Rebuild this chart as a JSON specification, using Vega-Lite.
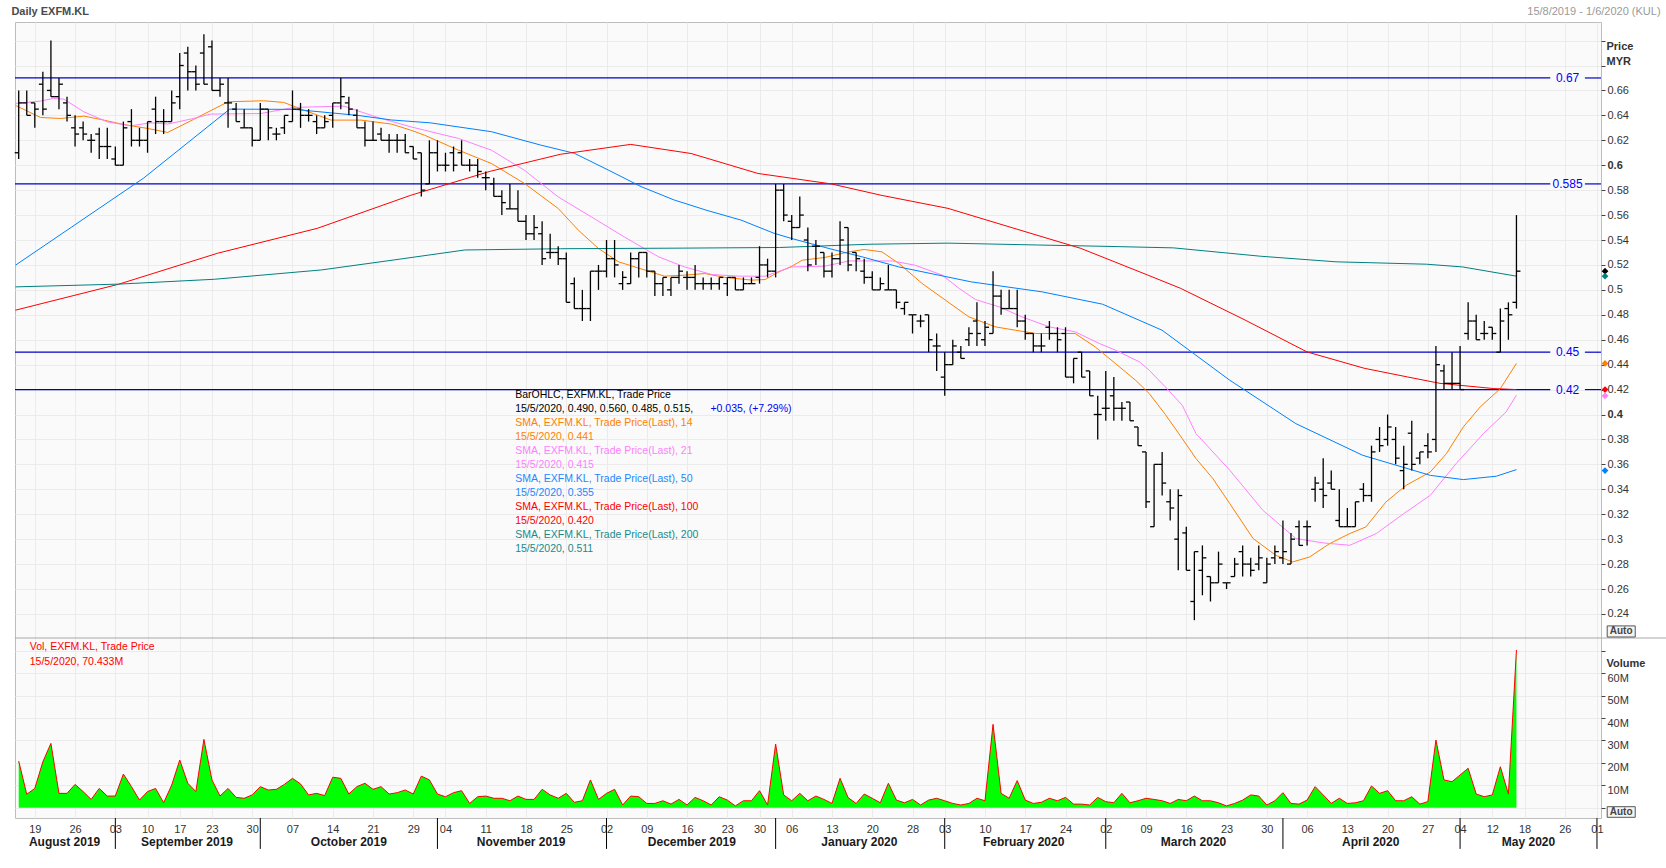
{
"$schema": "https://vega.github.io/schema/vega-lite/v6.json",
"width": 1586,
"height": 796,
"padding": {"left": 11, "top": 6, "right": 0, "bottom": 0},
"background": "#ffffff",
"config": {"font": "Liberation Sans", "view": {"stroke": "#bdbdbd", "fill": "#fafafa"}, "axis": {"labelOverlap": false, "labelFlush": false}},
"datasets": {
"ohlc": [
{"i":0,"o":0.61,"h":0.66,"l":0.605,"c":0.65,"v":20.8},
{"i":1,"o":0.65,"h":0.66,"l":0.64,"c":0.64,"v":6.0},
{"i":2,"o":0.65,"h":0.65,"l":0.63,"c":0.645,"v":8.6},
{"i":3,"o":0.665,"h":0.675,"l":0.64,"c":0.645,"v":20.5},
{"i":4,"o":0.66,"h":0.70,"l":0.655,"c":0.655,"v":28.7},
{"i":5,"o":0.655,"h":0.67,"l":0.645,"c":0.665,"v":6.4},
{"i":6,"o":0.65,"h":0.655,"l":0.635,"c":0.64,"v":6.4},
{"i":7,"o":0.63,"h":0.64,"l":0.615,"c":0.625,"v":10.4},
{"i":8,"o":0.63,"h":0.635,"l":0.62,"c":0.625,"v":7.2},
{"i":9,"o":0.62,"h":0.625,"l":0.61,"c":0.62,"v":3.7},
{"i":10,"o":0.625,"h":0.63,"l":0.605,"c":0.615,"v":8.6},
{"i":11,"o":0.615,"h":0.63,"l":0.605,"c":0.615,"v":5.2},
{"i":12,"o":0.605,"h":0.615,"l":0.60,"c":0.60,"v":5.2},
{"i":13,"o":0.60,"h":0.635,"l":0.60,"c":0.63,"v":15.0},
{"i":14,"o":0.635,"h":0.645,"l":0.615,"c":0.62,"v":9.4},
{"i":15,"o":0.62,"h":0.63,"l":0.615,"c":0.62,"v":3.4},
{"i":16,"o":0.62,"h":0.635,"l":0.61,"c":0.635,"v":7.2},
{"i":17,"o":0.645,"h":0.655,"l":0.625,"c":0.635,"v":8.6},
{"i":18,"o":0.635,"h":0.645,"l":0.625,"c":0.635,"v":2.2},
{"i":19,"o":0.635,"h":0.66,"l":0.635,"c":0.65,"v":10.1},
{"i":20,"o":0.655,"h":0.69,"l":0.645,"c":0.68,"v":21.3},
{"i":21,"o":0.69,"h":0.695,"l":0.66,"c":0.675,"v":10.9},
{"i":22,"o":0.675,"h":0.68,"l":0.66,"c":0.665,"v":7.2},
{"i":23,"o":0.69,"h":0.705,"l":0.665,"c":0.665,"v":30.5},
{"i":24,"o":0.695,"h":0.70,"l":0.66,"c":0.66,"v":12.4},
{"i":25,"o":0.66,"h":0.67,"l":0.655,"c":0.665,"v":5.2},
{"i":26,"o":0.65,"h":0.67,"l":0.63,"c":0.65,"v":8.6},
{"i":27,"o":0.645,"h":0.65,"l":0.635,"c":0.635,"v":4.6},
{"i":28,"o":0.63,"h":0.645,"l":0.63,"c":0.63,"v":4.2},
{"i":29,"o":0.63,"h":0.63,"l":0.615,"c":0.62,"v":5.7},
{"i":30,"o":0.62,"h":0.65,"l":0.62,"c":0.645,"v":9.4},
{"i":31,"o":0.645,"h":0.645,"l":0.62,"c":0.63,"v":7.9},
{"i":32,"o":0.625,"h":0.63,"l":0.62,"c":0.625,"v":8.2},
{"i":33,"o":0.63,"h":0.64,"l":0.625,"c":0.64,"v":10.4},
{"i":34,"o":0.635,"h":0.66,"l":0.635,"c":0.645,"v":13.1},
{"i":35,"o":0.645,"h":0.65,"l":0.63,"c":0.64,"v":10.6},
{"i":36,"o":0.64,"h":0.645,"l":0.635,"c":0.64,"v":5.7},
{"i":37,"o":0.635,"h":0.64,"l":0.625,"c":0.63,"v":6.4},
{"i":38,"o":0.63,"h":0.64,"l":0.63,"c":0.635,"v":5.4},
{"i":39,"o":0.64,"h":0.65,"l":0.63,"c":0.65,"v":13.6},
{"i":40,"o":0.65,"h":0.67,"l":0.645,"c":0.655,"v":13.1},
{"i":41,"o":0.65,"h":0.655,"l":0.64,"c":0.645,"v":6.1},
{"i":42,"o":0.64,"h":0.645,"l":0.63,"c":0.63,"v":9.4},
{"i":43,"o":0.63,"h":0.635,"l":0.615,"c":0.62,"v":10.9},
{"i":44,"o":0.62,"h":0.635,"l":0.62,"c":0.62,"v":8.2},
{"i":45,"o":0.625,"h":0.63,"l":0.62,"c":0.62,"v":9.4},
{"i":46,"o":0.62,"h":0.625,"l":0.61,"c":0.62,"v":6.1},
{"i":47,"o":0.62,"h":0.625,"l":0.61,"c":0.62,"v":6.7},
{"i":48,"o":0.62,"h":0.625,"l":0.61,"c":0.61,"v":7.9},
{"i":49,"o":0.615,"h":0.615,"l":0.605,"c":0.605,"v":6.1},
{"i":50,"o":0.61,"h":0.61,"l":0.575,"c":0.58,"v":14.1},
{"i":51,"o":0.585,"h":0.62,"l":0.585,"c":0.61,"v":12.4},
{"i":52,"o":0.61,"h":0.62,"l":0.595,"c":0.60,"v":6.1},
{"i":53,"o":0.60,"h":0.61,"l":0.595,"c":0.60,"v":4.9},
{"i":54,"o":0.61,"h":0.615,"l":0.595,"c":0.60,"v":6.7},
{"i":55,"o":0.61,"h":0.62,"l":0.60,"c":0.60,"v":7.6},
{"i":56,"o":0.60,"h":0.605,"l":0.595,"c":0.60,"v":1.9},
{"i":57,"o":0.60,"h":0.605,"l":0.59,"c":0.595,"v":4.9},
{"i":58,"o":0.59,"h":0.595,"l":0.58,"c":0.59,"v":5.2},
{"i":59,"o":0.585,"h":0.59,"l":0.575,"c":0.575,"v":4.2},
{"i":60,"o":0.575,"h":0.58,"l":0.56,"c":0.57,"v":4.2},
{"i":61,"o":0.565,"h":0.585,"l":0.565,"c":0.565,"v":3.1},
{"i":62,"o":0.565,"h":0.58,"l":0.555,"c":0.555,"v":5.2},
{"i":63,"o":0.555,"h":0.56,"l":0.54,"c":0.545,"v":3.7},
{"i":64,"o":0.545,"h":0.56,"l":0.54,"c":0.55,"v":3.7},
{"i":65,"o":0.545,"h":0.555,"l":0.52,"c":0.525,"v":8.2},
{"i":66,"o":0.53,"h":0.545,"l":0.525,"c":0.53,"v":5.7},
{"i":67,"o":0.53,"h":0.535,"l":0.52,"c":0.525,"v":4.2},
{"i":68,"o":0.525,"h":0.53,"l":0.49,"c":0.49,"v":6.4},
{"i":69,"o":0.505,"h":0.51,"l":0.485,"c":0.485,"v":2.4},
{"i":70,"o":0.485,"h":0.50,"l":0.475,"c":0.485,"v":3.1},
{"i":71,"o":0.485,"h":0.515,"l":0.475,"c":0.515,"v":12.4},
{"i":72,"o":0.515,"h":0.52,"l":0.50,"c":0.515,"v":3.7},
{"i":73,"o":0.515,"h":0.54,"l":0.51,"c":0.525,"v":6.4},
{"i":74,"o":0.525,"h":0.54,"l":0.51,"c":0.52,"v":8.2},
{"i":75,"o":0.505,"h":0.515,"l":0.50,"c":0.51,"v":1.2},
{"i":76,"o":0.505,"h":0.53,"l":0.505,"c":0.525,"v":5.2},
{"i":77,"o":0.525,"h":0.53,"l":0.51,"c":0.53,"v":4.9},
{"i":78,"o":0.53,"h":0.53,"l":0.51,"c":0.515,"v":1.9},
{"i":79,"o":0.515,"h":0.515,"l":0.495,"c":0.505,"v":1.9},
{"i":80,"o":0.505,"h":0.51,"l":0.495,"c":0.51,"v":3.1},
{"i":81,"o":0.50,"h":0.51,"l":0.495,"c":0.51,"v":1.6},
{"i":82,"o":0.51,"h":0.52,"l":0.505,"c":0.515,"v":3.7},
{"i":83,"o":0.51,"h":0.515,"l":0.50,"c":0.51,"v":1.2},
{"i":84,"o":0.51,"h":0.52,"l":0.50,"c":0.505,"v":4.6},
{"i":85,"o":0.505,"h":0.51,"l":0.50,"c":0.505,"v":3.1},
{"i":86,"o":0.505,"h":0.51,"l":0.50,"c":0.505,"v":1.2},
{"i":87,"o":0.505,"h":0.51,"l":0.50,"c":0.51,"v":4.9},
{"i":88,"o":0.505,"h":0.51,"l":0.495,"c":0.51,"v":3.4},
{"i":89,"o":0.51,"h":0.51,"l":0.50,"c":0.50,"v":0.8},
{"i":90,"o":0.50,"h":0.51,"l":0.50,"c":0.505,"v":3.1},
{"i":91,"o":0.505,"h":0.51,"l":0.505,"c":0.505,"v":3.1},
{"i":92,"o":0.51,"h":0.535,"l":0.505,"c":0.52,"v":7.6},
{"i":93,"o":0.52,"h":0.525,"l":0.51,"c":0.515,"v":1.2},
{"i":94,"o":0.515,"h":0.585,"l":0.51,"c":0.58,"v":28.4},
{"i":95,"o":0.58,"h":0.585,"l":0.555,"c":0.56,"v":5.7},
{"i":96,"o":0.555,"h":0.56,"l":0.54,"c":0.55,"v":3.1},
{"i":97,"o":0.55,"h":0.575,"l":0.55,"c":0.56,"v":6.4},
{"i":98,"o":0.54,"h":0.55,"l":0.515,"c":0.52,"v":3.1},
{"i":99,"o":0.535,"h":0.54,"l":0.52,"c":0.535,"v":5.2},
{"i":100,"o":0.53,"h":0.53,"l":0.51,"c":0.515,"v":3.7},
{"i":101,"o":0.515,"h":0.53,"l":0.51,"c":0.525,"v":1.9},
{"i":102,"o":0.525,"h":0.555,"l":0.52,"c":0.54,"v":13.1},
{"i":103,"o":0.55,"h":0.55,"l":0.515,"c":0.52,"v":4.5},
{"i":104,"o":0.53,"h":0.53,"l":0.515,"c":0.525,"v":1.9},
{"i":105,"o":0.515,"h":0.525,"l":0.505,"c":0.51,"v":6.1},
{"i":106,"o":0.51,"h":0.515,"l":0.50,"c":0.50,"v":4.2},
{"i":107,"o":0.50,"h":0.51,"l":0.50,"c":0.505,"v":2.2},
{"i":108,"o":0.50,"h":0.52,"l":0.50,"c":0.50,"v":10.9},
{"i":109,"o":0.50,"h":0.50,"l":0.485,"c":0.49,"v":3.4},
{"i":110,"o":0.485,"h":0.49,"l":0.48,"c":0.49,"v":2.2},
{"i":111,"o":0.48,"h":0.48,"l":0.465,"c":0.48,"v":3.7},
{"i":112,"o":0.475,"h":0.48,"l":0.47,"c":0.475,"v":1.2},
{"i":113,"o":0.48,"h":0.48,"l":0.45,"c":0.46,"v":3.4},
{"i":114,"o":0.455,"h":0.465,"l":0.435,"c":0.455,"v":4.2},
{"i":115,"o":0.43,"h":0.45,"l":0.415,"c":0.44,"v":3.1},
{"i":116,"o":0.44,"h":0.46,"l":0.44,"c":0.455,"v":1.9},
{"i":117,"o":0.45,"h":0.455,"l":0.445,"c":0.445,"v":1.2},
{"i":118,"o":0.46,"h":0.47,"l":0.455,"c":0.465,"v":1.9},
{"i":119,"o":0.475,"h":0.49,"l":0.455,"c":0.465,"v":4.2},
{"i":120,"o":0.46,"h":0.475,"l":0.455,"c":0.47,"v":3.1},
{"i":121,"o":0.465,"h":0.515,"l":0.465,"c":0.495,"v":37.2},
{"i":122,"o":0.495,"h":0.50,"l":0.48,"c":0.485,"v":6.4},
{"i":123,"o":0.485,"h":0.50,"l":0.485,"c":0.485,"v":4.2},
{"i":124,"o":0.485,"h":0.50,"l":0.47,"c":0.475,"v":12.1},
{"i":125,"o":0.475,"h":0.48,"l":0.46,"c":0.465,"v":3.4},
{"i":126,"o":0.465,"h":0.465,"l":0.45,"c":0.455,"v":1.9},
{"i":127,"o":0.455,"h":0.465,"l":0.45,"c":0.455,"v":2.4},
{"i":128,"o":0.47,"h":0.475,"l":0.46,"c":0.465,"v":4.2},
{"i":129,"o":0.465,"h":0.47,"l":0.45,"c":0.46,"v":3.1},
{"i":130,"o":0.465,"h":0.47,"l":0.43,"c":0.43,"v":4.6},
{"i":131,"o":0.43,"h":0.445,"l":0.425,"c":0.445,"v":1.6},
{"i":132,"o":0.45,"h":0.45,"l":0.43,"c":0.43,"v":1.6},
{"i":133,"o":0.435,"h":0.435,"l":0.415,"c":0.415,"v":1.2},
{"i":134,"o":0.40,"h":0.415,"l":0.38,"c":0.40,"v":4.6},
{"i":135,"o":0.405,"h":0.435,"l":0.395,"c":0.405,"v":2.7},
{"i":136,"o":0.415,"h":0.43,"l":0.395,"c":0.405,"v":2.2},
{"i":137,"o":0.405,"h":0.41,"l":0.395,"c":0.405,"v":6.4},
{"i":138,"o":0.41,"h":0.41,"l":0.395,"c":0.395,"v":2.2},
{"i":139,"o":0.39,"h":0.39,"l":0.375,"c":0.375,"v":3.1},
{"i":140,"o":0.37,"h":0.37,"l":0.325,"c":0.33,"v":4.2},
{"i":141,"o":0.31,"h":0.36,"l":0.31,"c":0.36,"v":3.7},
{"i":142,"o":0.36,"h":0.37,"l":0.335,"c":0.345,"v":3.1},
{"i":143,"o":0.33,"h":0.34,"l":0.315,"c":0.325,"v":1.9},
{"i":144,"o":0.30,"h":0.34,"l":0.275,"c":0.335,"v":3.7},
{"i":145,"o":0.305,"h":0.31,"l":0.275,"c":0.275,"v":3.1},
{"i":146,"o":0.25,"h":0.29,"l":0.235,"c":0.29,"v":5.2},
{"i":147,"o":0.275,"h":0.295,"l":0.255,"c":0.285,"v":3.1},
{"i":148,"o":0.27,"h":0.27,"l":0.25,"c":0.265,"v":3.1},
{"i":149,"o":0.265,"h":0.29,"l":0.265,"c":0.28,"v":2.2},
{"i":150,"o":0.265,"h":0.265,"l":0.26,"c":0.265,"v":0.8},
{"i":151,"o":0.27,"h":0.285,"l":0.27,"c":0.28,"v":1.9},
{"i":152,"o":0.29,"h":0.295,"l":0.27,"c":0.28,"v":3.4},
{"i":153,"o":0.28,"h":0.285,"l":0.27,"c":0.275,"v":5.7},
{"i":154,"o":0.28,"h":0.295,"l":0.275,"c":0.285,"v":5.2},
{"i":155,"o":0.265,"h":0.285,"l":0.265,"c":0.28,"v":1.2},
{"i":156,"o":0.285,"h":0.295,"l":0.28,"c":0.29,"v":3.1},
{"i":157,"o":0.285,"h":0.315,"l":0.28,"c":0.29,"v":6.7},
{"i":158,"o":0.28,"h":0.305,"l":0.28,"c":0.30,"v":1.9},
{"i":159,"o":0.31,"h":0.315,"l":0.295,"c":0.295,"v":1.6},
{"i":160,"o":0.31,"h":0.315,"l":0.295,"c":0.31,"v":3.4},
{"i":161,"o":0.34,"h":0.35,"l":0.33,"c":0.345,"v":9.4},
{"i":162,"o":0.34,"h":0.365,"l":0.325,"c":0.335,"v":5.7},
{"i":163,"o":0.345,"h":0.355,"l":0.34,"c":0.34,"v":1.9},
{"i":164,"o":0.315,"h":0.34,"l":0.31,"c":0.31,"v":4.2},
{"i":165,"o":0.31,"h":0.325,"l":0.31,"c":0.31,"v":1.9},
{"i":166,"o":0.31,"h":0.33,"l":0.31,"c":0.33,"v":2.2},
{"i":167,"o":0.34,"h":0.345,"l":0.33,"c":0.335,"v":3.1},
{"i":168,"o":0.335,"h":0.375,"l":0.33,"c":0.37,"v":9.7},
{"i":169,"o":0.38,"h":0.39,"l":0.37,"c":0.375,"v":6.4},
{"i":170,"o":0.38,"h":0.40,"l":0.375,"c":0.39,"v":7.6},
{"i":171,"o":0.38,"h":0.39,"l":0.36,"c":0.365,"v":3.1},
{"i":172,"o":0.355,"h":0.375,"l":0.34,"c":0.36,"v":3.1},
{"i":173,"o":0.385,"h":0.395,"l":0.355,"c":0.36,"v":4.9},
{"i":174,"o":0.365,"h":0.37,"l":0.36,"c":0.37,"v":1.6},
{"i":175,"o":0.375,"h":0.385,"l":0.365,"c":0.37,"v":2.7},
{"i":176,"o":0.38,"h":0.455,"l":0.37,"c":0.44,"v":30.2},
{"i":177,"o":0.435,"h":0.44,"l":0.42,"c":0.425,"v":12.4},
{"i":178,"o":0.425,"h":0.45,"l":0.42,"c":0.425,"v":11.6},
{"i":179,"o":0.425,"h":0.455,"l":0.42,"c":0.42,"v":14.6},
{"i":180,"o":0.465,"h":0.49,"l":0.46,"c":0.475,"v":17.6},
{"i":181,"o":0.475,"h":0.48,"l":0.46,"c":0.46,"v":6.1},
{"i":182,"o":0.465,"h":0.475,"l":0.46,"c":0.465,"v":4.9},
{"i":183,"o":0.47,"h":0.47,"l":0.46,"c":0.465,"v":5.7},
{"i":184,"o":0.45,"h":0.485,"l":0.45,"c":0.475,"v":18.3},
{"i":185,"o":0.485,"h":0.49,"l":0.46,"c":0.48,"v":6.1},
{"i":186,"o":0.49,"h":0.56,"l":0.485,"c":0.515,"v":70.433}
],
"sma": [
{"s":"14","i":-0.4,"v":0.648},{"s":"14","i":2.7,"v":0.6383},{"s":"14","i":5.2,"v":0.6375},{"s":"14","i":8.1,"v":0.6394},{"s":"14","i":10.2,"v":0.6367},{"s":"14","i":13,"v":0.6327},{"s":"14","i":16,"v":0.6295},{"s":"14","i":18.5,"v":0.6263},{"s":"14","i":21.7,"v":0.6367},{"s":"14","i":26,"v":0.6509},{"s":"14","i":30.4,"v":0.6517},{"s":"14","i":32.9,"v":0.6504},{"s":"14","i":35.4,"v":0.6442},{"s":"14","i":38.8,"v":0.6362},{"s":"14","i":42.5,"v":0.6362},{"s":"14","i":46.3,"v":0.633},{"s":"14","i":48.7,"v":0.6281},{"s":"14","i":50.4,"v":0.6241},{"s":"14","i":54.6,"v":0.6121},{"s":"14","i":58.7,"v":0.6014},{"s":"14","i":62.8,"v":0.5854},{"s":"14","i":67,"v":0.5653},{"s":"14","i":69.5,"v":0.5479},{"s":"14","i":72,"v":0.5332},{"s":"14","i":74.5,"v":0.5225},{"s":"14","i":77.4,"v":0.5166},{"s":"14","i":80.2,"v":0.511},{"s":"14","i":82.7,"v":0.5118},{"s":"14","i":85.2,"v":0.5131},{"s":"14","i":87.7,"v":0.51},{"s":"14","i":91.1,"v":0.5078},{"s":"14","i":92.7,"v":0.5083},{"s":"14","i":94.4,"v":0.5144},{"s":"14","i":96,"v":0.5189},{"s":"14","i":97.3,"v":0.5238},{"s":"14","i":100.1,"v":0.526},{"s":"14","i":103.1,"v":0.5305},{"s":"14","i":105,"v":0.5324},{"s":"14","i":107.2,"v":0.5305},{"s":"14","i":109.3,"v":0.5212},{"s":"14","i":112.2,"v":0.5051},{"s":"14","i":115.1,"v":0.4917},{"s":"14","i":118,"v":0.4783},{"s":"14","i":121.3,"v":0.4703},{"s":"14","i":123.8,"v":0.4676},{"s":"14","i":126.3,"v":0.465},{"s":"14","i":131.2,"v":0.465},{"s":"14","i":133.7,"v":0.4542},{"s":"14","i":136.2,"v":0.4409},{"s":"14","i":138.7,"v":0.4275},{"s":"14","i":140.4,"v":0.4168},{"s":"14","i":142.4,"v":0.40},{"s":"14","i":144.5,"v":0.3807},{"s":"14","i":146.2,"v":0.3647},{"s":"14","i":148.3,"v":0.3486},{"s":"14","i":150.4,"v":0.3285},{"s":"14","i":153.3,"v":0.3005},{"s":"14","i":156.1,"v":0.2871},{"s":"14","i":158.2,"v":0.2817},{"s":"14","i":160.3,"v":0.2857},{"s":"14","i":162.8,"v":0.2964},{"s":"14","i":165.3,"v":0.3045},{"s":"14","i":167.3,"v":0.3098},{"s":"14","i":169.8,"v":0.3299},{"s":"14","i":172.3,"v":0.3432},{"s":"14","i":175.3,"v":0.3539},{"s":"14","i":177.3,"v":0.3686},{"s":"14","i":179.4,"v":0.39},{"s":"14","i":181.5,"v":0.4061},{"s":"14","i":184,"v":0.4208},{"s":"14","i":186,"v":0.441},
{"s":"21","i":-0.4,"v":0.6496},{"s":"21","i":2.7,"v":0.6514},{"s":"21","i":4.3,"v":0.6536},{"s":"21","i":5.6,"v":0.653},{"s":"21","i":8.1,"v":0.6428},{"s":"21","i":11,"v":0.6348},{"s":"21","i":13.9,"v":0.6316},{"s":"21","i":16.4,"v":0.634},{"s":"21","i":18.5,"v":0.633},{"s":"21","i":21.7,"v":0.6375},{"s":"21","i":23.8,"v":0.641},{"s":"21","i":30.1,"v":0.6415},{"s":"21","i":34.2,"v":0.6464},{"s":"21","i":40.4,"v":0.6474},{"s":"21","i":42.5,"v":0.6428},{"s":"21","i":44.6,"v":0.6383},{"s":"21","i":48.7,"v":0.6308},{"s":"21","i":50.4,"v":0.6281},{"s":"21","i":54.6,"v":0.6215},{"s":"21","i":58.7,"v":0.6121},{"s":"21","i":62.8,"v":0.596},{"s":"21","i":67,"v":0.5746},{"s":"21","i":71.1,"v":0.5586},{"s":"21","i":75.2,"v":0.5425},{"s":"21","i":79.5,"v":0.5264},{"s":"21","i":82.7,"v":0.5184},{"s":"21","i":86.1,"v":0.5123},{"s":"21","i":89.4,"v":0.511},{"s":"21","i":92.7,"v":0.511},{"s":"21","i":96,"v":0.5184},{"s":"21","i":100.1,"v":0.519},{"s":"21","i":103.1,"v":0.5232},{"s":"21","i":108.5,"v":0.5232},{"s":"21","i":111.3,"v":0.5198},{"s":"21","i":114.7,"v":0.5118},{"s":"21","i":116.8,"v":0.5011},{"s":"21","i":118.8,"v":0.4923},{"s":"21","i":121.8,"v":0.4863},{"s":"21","i":124.6,"v":0.4783},{"s":"21","i":128,"v":0.4703},{"s":"21","i":131.2,"v":0.4663},{"s":"21","i":134.2,"v":0.457},{"s":"21","i":136.2,"v":0.4516},{"s":"21","i":139.2,"v":0.4422},{"s":"21","i":140.4,"v":0.4355},{"s":"21","i":142.4,"v":0.4221},{"s":"21","i":144.5,"v":0.4074},{"s":"21","i":146.2,"v":0.3847},{"s":"21","i":150.4,"v":0.3553},{"s":"21","i":154.5,"v":0.3232},{"s":"21","i":158.6,"v":0.3005},{"s":"21","i":162,"v":0.297},{"s":"21","i":165.3,"v":0.2951},{"s":"21","i":168.6,"v":0.3045},{"s":"21","i":172,"v":0.3205},{"s":"21","i":175.3,"v":0.3352},{"s":"21","i":178.5,"v":0.3606},{"s":"21","i":181.9,"v":0.3847},{"s":"21","i":184.7,"v":0.402},{"s":"21","i":186,"v":0.4155},
{"s":"50","i":-0.4,"v":0.5198},{"s":"50","i":6.6,"v":0.5505},{"s":"50","i":15.5,"v":0.5896},{"s":"50","i":26.2,"v":0.645},{"s":"50","i":34.2,"v":0.6448},{"s":"50","i":42.1,"v":0.64},{"s":"50","i":46.3,"v":0.6363},{"s":"50","i":51.1,"v":0.634},{"s":"50","i":58.7,"v":0.6269},{"s":"50","i":64.8,"v":0.6162},{"s":"50","i":69,"v":0.6096},{"s":"50","i":73.2,"v":0.5962},{"s":"50","i":77.3,"v":0.5828},{"s":"50","i":81.4,"v":0.5721},{"s":"50","i":85.6,"v":0.5635},{"s":"50","i":89.7,"v":0.556},{"s":"50","i":93.8,"v":0.5454},{"s":"50","i":96,"v":0.5412},{"s":"50","i":100.5,"v":0.5334},{"s":"50","i":104.8,"v":0.5264},{"s":"50","i":109.3,"v":0.5184},{"s":"50","i":118.3,"v":0.5064},{"s":"50","i":127.1,"v":0.4984},{"s":"50","i":134.6,"v":0.4885},{"s":"50","i":142,"v":0.4676},{"s":"50","i":150.4,"v":0.4275},{"s":"50","i":158.6,"v":0.3927},{"s":"50","i":166.9,"v":0.3673},{"s":"50","i":175.3,"v":0.3512},{"s":"50","i":179.4,"v":0.3478},{"s":"50","i":183.5,"v":0.3505},{"s":"50","i":186,"v":0.3558},
{"s":"100","i":-0.4,"v":0.4837},{"s":"100","i":12.4,"v":0.5045},{"s":"100","i":24.7,"v":0.5294},{"s":"100","i":37.1,"v":0.5494},{"s":"100","i":48.7,"v":0.5759},{"s":"100","i":58.6,"v":0.5952},{"s":"100","i":67.3,"v":0.6088},{"s":"100","i":76,"v":0.6167},{"s":"100","i":83.5,"v":0.6094},{"s":"100","i":91.8,"v":0.5934},{"s":"100","i":100.9,"v":0.585},{"s":"100","i":107.1,"v":0.5759},{"s":"100","i":115.4,"v":0.5654},{"s":"100","i":123.6,"v":0.5494},{"s":"100","i":131.9,"v":0.5333},{"s":"100","i":140.2,"v":0.5119},{"s":"100","i":144.3,"v":0.5012},{"s":"100","i":152.3,"v":0.4758},{"s":"100","i":160,"v":0.4502},{"s":"100","i":167.1,"v":0.4371},{"s":"100","i":172.5,"v":0.4301},{"s":"100","i":176.5,"v":0.425},{"s":"100","i":183.2,"v":0.4208},{"s":"100","i":186,"v":0.42},
{"s":"200","i":-0.4,"v":0.5024},{"s":"200","i":12.4,"v":0.5046},{"s":"200","i":24.3,"v":0.5085},{"s":"200","i":37.6,"v":0.516},{"s":"200","i":46.6,"v":0.524},{"s":"200","i":55.4,"v":0.532},{"s":"200","i":67.3,"v":0.533},{"s":"200","i":82.6,"v":0.5335},{"s":"200","i":94.5,"v":0.534},{"s":"200","i":105.6,"v":0.5366},{"s":"200","i":115.4,"v":0.5375},{"s":"200","i":126.5,"v":0.536},{"s":"200","i":134.4,"v":0.535},{"s":"200","i":143.4,"v":0.5337},{"s":"200","i":154.2,"v":0.527},{"s":"200","i":163.6,"v":0.5225},{"s":"200","i":174.8,"v":0.5206},{"s":"200","i":179.3,"v":0.5184},{"s":"200","i":186,"v":0.511}
],
"levels": [{"lvl":0.67,"lbl":"0.67"},{"lvl":0.585,"lbl":"0.585"},{"lvl":0.45,"lbl":"0.45"},{"lvl":0.42,"lbl":"0.42"}],
"last": [{"s":"price","v":0.515},{"s":"200","v":0.511},{"s":"14","v":0.441},{"s":"100","v":0.42},{"s":"21","v":0.415},{"s":"50","v":0.355}],
"months": [{"m":"August 2019","c":5.7},{"m":"September 2019","c":20.9,"s":12},{"m":"October 2019","c":41,"s":30},{"m":"November 2019","c":62.4,"s":52},{"m":"December 2019","c":83.6,"s":73},{"m":"January 2020","c":104.4,"s":94},{"m":"February 2020","c":124.8,"s":115},{"m":"March 2020","c":145.9,"s":135},{"m":"April 2020","c":167.9,"s":157},{"m":"May 2020","c":187.5,"s":179},{"m":"","s":196}]
},
"layer": [
{"layer": [
{"data": {"name": "levels"}, "mark": {"type": "rule", "color": "#0000cc", "strokeWidth": 1.2},
 "encoding": {"x": {"datum": -0.46, "type": "quantitative", "scale": {"domain": [-0.46, 196.5], "nice": false, "zero": false}}, "x2": {"datum": 190.2},
 "y": {"field": "lvl", "type": "quantitative", "scale": {"domain": [0.0763, 0.7149], "nice": false, "zero": false},
  "axis": {"orient": "right", "values": [0.24,0.26,0.28,0.3,0.32,0.34,0.36,0.38,0.4,0.42,0.44,0.46,0.48,0.5,0.52,0.54,0.56,0.58,0.6,0.62,0.64,0.66,0.68,0.7], "tickCount": 200,
   "labelExpr": "datum.value > 0.665 ? '' : format(datum.value, '.2~f')",
   "grid": true, "gridColor": "#ebebeb", "domain": false, "tickSize": 4, "tickColor": "#444444",
   "labelFontSize": 11, "labelColor": "#333333", "labelPadding": 2,
   "labelFontWeight": {"condition": {"test": "abs(datum.value - 0.4) < 0.001 || abs(datum.value - 0.6) < 0.001", "value": "bold"}, "value": "normal"},
   "labelOverlap": false, "labelBound": false,
   "title": ["Price", "MYR"], "titleAngle": 0, "titleAlign": "left", "titleBaseline": "top", "titleX": 5, "titleY": 18, "titleFontSize": 11, "titleFontWeight": "bold", "titleColor": "#333333", "titleLineHeight": 15}}}},
{"data": {"name": "levels"}, "mark": {"type": "rule", "color": "#0000cc", "strokeWidth": 1.2},
 "encoding": {"x": {"datum": 194.5, "type": "quantitative"}, "x2": {"datum": 196.5}, "y": {"field": "lvl", "type": "quantitative"}}},
{"data": {"name": "levels"}, "mark": {"type": "text", "color": "#0000ff", "fontSize": 12, "align": "center", "baseline": "middle"},
 "encoding": {"x": {"datum": 192.35, "type": "quantitative"}, "y": {"field": "lvl", "type": "quantitative"}, "text": {"field": "lbl"}}},
{"data": {"values": [{"k": 1}]}, "mark": {"type": "rule", "color": "#a8a8a8", "strokeWidth": 1},
 "encoding": {"x": {"datum": -0.46, "type": "quantitative"}, "x2": {"datum": 204.7}, "y": {"datum": 0.2207, "type": "quantitative"}}},
{"data": {"name": "sma"}, "mark": {"type": "line", "strokeWidth": 1, "interpolate": "linear"},
 "encoding": {"x": {"field": "i", "type": "quantitative", "scale": {"domain": [-0.46, 196.5], "nice": false, "zero": false},
  "axis": {"values": [2,7,12,16,20,24,29,34,39,44,49,53,58,63,68,73,78,83,88,92,96,101,106,111,115,120,125,130,135,140,145,150,155,160,165,170,175,179,183,187,192,196], "tickCount": 200,
  "labelExpr": "['19','26','03','10','17','23','30','07','14','21','29','04','11','18','25','02','09','16','23','30','06','13','20','28','03','10','17','24','02','09','16','23','30','06','13','20','27','04','12','18','26','01'][indexof([2,7,12,16,20,24,29,34,39,44,49,53,58,63,68,73,78,83,88,92,96,101,106,111,115,120,125,130,135,140,145,150,155,160,165,170,175,179,183,187,192,196], datum.value)]",
  "title": null, "grid": true, "gridColor": "#ebebeb", "ticks": false, "domain": false, "labelFontSize": 11, "labelColor": "#333333", "labelPadding": 5, "labelFlush": false, "labelOverlap": false, "labelBound": false}},
 "y": {"field": "v", "type": "quantitative"},
 "color": {"field": "s", "type": "nominal", "scale": {"domain": ["14","21","50","100","200","price"], "range": ["#ff8000","#ff80ff","#0080ff","#ff0000","#008080","#000000"]}, "legend": null}}},
{"data": {"name": "ohlc"}, "mark": {"type": "rule", "color": "#000000", "strokeWidth": 1.3},
 "encoding": {"x": {"field": "i", "type": "quantitative"}, "y": {"field": "h", "type": "quantitative"}, "y2": {"field": "l"}}},
{"data": {"name": "ohlc"}, "mark": {"type": "rule", "color": "#000000", "strokeWidth": 1.3, "xOffset": -4, "x2Offset": 0},
 "encoding": {"x": {"field": "i", "type": "quantitative"}, "x2": {"field": "i"}, "y": {"field": "o", "type": "quantitative"}}},
{"data": {"name": "ohlc"}, "mark": {"type": "rule", "color": "#000000", "strokeWidth": 1.3, "xOffset": 0, "x2Offset": 4},
 "encoding": {"x": {"field": "i", "type": "quantitative"}, "x2": {"field": "i"}, "y": {"field": "c", "type": "quantitative"}}},
{"data": {"name": "last"}, "mark": {"type": "point", "shape": "diamond", "filled": true, "size": 45, "opacity": 1},
 "encoding": {"x": {"datum": 197.0, "type": "quantitative"}, "y": {"field": "v", "type": "quantitative"},
 "color": {"field": "s", "type": "nominal", "legend": null}}},
{"data": {"values": [{"k": 1}]}, "mark": {"type": "text", "align": "left", "baseline": "top", "fontSize": 10.5, "lineHeight": 14, "lineBreak": "\n", "color": "#000000"},
 "encoding": {"x": {"datum": 61.65, "type": "quantitative"}, "y": {"datum": 0.42, "type": "quantitative"}, "text": {"value": "BarOHLC, EXFM.KL, Trade Price\n15/5/2020, 0.490, 0.560, 0.485, 0.515,"}}},
{"data": {"values": [{"k": 1}]}, "mark": {"type": "text", "align": "left", "baseline": "top", "fontSize": 10.5, "color": "#0000ff"},
 "encoding": {"x": {"datum": 85.9, "type": "quantitative"}, "y": {"datum": 0.40877, "type": "quantitative"}, "text": {"value": "+0.035, (+7.29%)"}}},
{"data": {"values": [{"k": 1}]}, "mark": {"type": "text", "align": "left", "baseline": "top", "fontSize": 10.5, "lineHeight": 14, "lineBreak": "\n", "color": "#ff8000"},
 "encoding": {"x": {"datum": 61.65, "type": "quantitative"}, "y": {"datum": 0.39754, "type": "quantitative"}, "text": {"value": "SMA, EXFM.KL, Trade Price(Last),  14\n15/5/2020, 0.441"}}},
{"data": {"values": [{"k": 1}]}, "mark": {"type": "text", "align": "left", "baseline": "top", "fontSize": 10.5, "lineHeight": 14, "lineBreak": "\n", "color": "#ff80ff"},
 "encoding": {"x": {"datum": 61.65, "type": "quantitative"}, "y": {"datum": 0.37508, "type": "quantitative"}, "text": {"value": "SMA, EXFM.KL, Trade Price(Last),  21\n15/5/2020, 0.415"}}},
{"data": {"values": [{"k": 1}]}, "mark": {"type": "text", "align": "left", "baseline": "top", "fontSize": 10.5, "lineHeight": 14, "lineBreak": "\n", "color": "#1e88ff"},
 "encoding": {"x": {"datum": 61.65, "type": "quantitative"}, "y": {"datum": 0.35262, "type": "quantitative"}, "text": {"value": "SMA, EXFM.KL, Trade Price(Last),  50\n15/5/2020, 0.355"}}},
{"data": {"values": [{"k": 1}]}, "mark": {"type": "text", "align": "left", "baseline": "top", "fontSize": 10.5, "lineHeight": 14, "lineBreak": "\n", "color": "#ff0000"},
 "encoding": {"x": {"datum": 61.65, "type": "quantitative"}, "y": {"datum": 0.33015, "type": "quantitative"}, "text": {"value": "SMA, EXFM.KL, Trade Price(Last),  100\n15/5/2020, 0.420"}}},
{"data": {"values": [{"k": 1}]}, "mark": {"type": "text", "align": "left", "baseline": "top", "fontSize": 10.5, "lineHeight": 14, "lineBreak": "\n", "color": "#178a8a"},
 "encoding": {"x": {"datum": 61.65, "type": "quantitative"}, "y": {"datum": 0.30769, "type": "quantitative"}, "text": {"value": "SMA, EXFM.KL, Trade Price(Last),  200\n15/5/2020, 0.511"}}},
{"data": {"values": [{"k": 1}]}, "mark": {"type": "text", "align": "left", "baseline": "middle", "fontSize": 11, "fontWeight": "bold", "color": "#4a4a4a"},
 "encoding": {"x": {"datum": -0.91, "type": "quantitative"}, "y": {"datum": 0.7227, "type": "quantitative"}, "text": {"value": "Daily EXFM.KL"}}},
{"data": {"values": [{"k": 1}]}, "mark": {"type": "text", "align": "right", "baseline": "middle", "fontSize": 11, "color": "#9a9a9a"},
 "encoding": {"x": {"datum": 203.9, "type": "quantitative"}, "y": {"datum": 0.7227, "type": "quantitative"}, "text": {"value": "15/8/2019 - 1/6/2020 (KUL)"}}},
{"data": {"values": [{"k": 1}]}, "mark": {"type": "rect", "fill": "#f4f4f4", "stroke": "#555555", "strokeWidth": 1},
 "encoding": {"x": {"datum": 197.27, "type": "quantitative"}, "x2": {"datum": 200.75}, "y": {"datum": 0.2304, "type": "quantitative"}, "y2": {"datum": 0.2215}}},
{"data": {"values": [{"k": 1}]}, "mark": {"type": "text", "align": "center", "baseline": "middle", "fontSize": 10, "fontWeight": "bold", "color": "#444444"},
 "encoding": {"x": {"datum": 199.0, "type": "quantitative"}, "y": {"datum": 0.226, "type": "quantitative"}, "text": {"value": "Auto"}}}
]},
{"layer": [
{"data": {"name": "ohlc"}, "mark": {"type": "area", "color": "#00ff00", "interpolate": "linear", "opacity": 1},
 "encoding": {
 "x": {"field": "i", "type": "quantitative", "scale": {"domain": [-0.46, 196.5], "nice": false, "zero": false},
  "axis": {"values": [2,7,12,16,20,24,29,34,39,44,49,53,58,63,68,73,78,83,88,92,96,101,106,111,115,120,125,130,135,140,145,150,155,160,165,170,175,179,183,187,192,196], "tickCount": 200,
  "labelExpr": "['19','26','03','10','17','23','30','07','14','21','29','04','11','18','25','02','09','16','23','30','06','13','20','28','03','10','17','24','02','09','16','23','30','06','13','20','27','04','12','18','26','01'][indexof([2,7,12,16,20,24,29,34,39,44,49,53,58,63,68,73,78,83,88,92,96,101,106,111,115,120,125,130,135,140,145,150,155,160,165,170,175,179,183,187,192,196], datum.value)]",
  "title": null, "grid": true, "gridColor": "#ebebeb", "ticks": false, "domain": false, "labelFontSize": 11, "labelColor": "#333333", "labelPadding": 5, "labelFlush": false, "labelOverlap": false, "labelBound": false}},
 "y": {"field": "v", "type": "quantitative", "scale": {"domain": [-4.6, 350.76], "nice": false, "zero": false},
  "axis": {"orient": "right", "values": [0,10,20,30,40,50,60,70], "tickCount": 200,
   "labelExpr": "(datum.value >= 10 && datum.value <= 60) ? datum.value + 'M' : ''",
   "grid": true, "gridColor": "#ebebeb", "domain": false, "tickSize": 4, "tickColor": "#444444",
   "labelFontSize": 11, "labelColor": "#333333", "labelPadding": 2, "labelOffset": 5, "labelOverlap": false, "labelBound": false,
   "title": "Volume", "titleAngle": 0, "titleAlign": "left", "titleBaseline": "middle", "titleX": 5, "titleY": 641, "titleFontSize": 11, "titleFontWeight": "bold", "titleColor": "#333333"}},
 "y2": {"datum": 0}}},
{"data": {"name": "ohlc"}, "mark": {"type": "line", "color": "#ff0000", "strokeWidth": 1},
 "encoding": {"x": {"field": "i", "type": "quantitative"}, "y": {"field": "v", "type": "quantitative"}}},
{"data": {"name": "months"}, "transform": [{"filter": "datum.m != ''"}],
 "mark": {"type": "text", "fontWeight": "bold", "fontSize": 12, "color": "#1a1a1a", "align": "center", "baseline": "middle"},
 "encoding": {"x": {"field": "c", "type": "quantitative"}, "y": {"datum": -15.3, "type": "quantitative"}, "text": {"field": "m"}}},
{"data": {"name": "months"}, "transform": [{"filter": "isValid(datum.s)"}],
 "mark": {"type": "rule", "color": "#000000", "strokeWidth": 1},
 "encoding": {"x": {"field": "s", "type": "quantitative"}, "y": {"datum": -4.6, "type": "quantitative"}, "y2": {"datum": -18.4}}},
{"data": {"values": [{"k": 1}]}, "mark": {"type": "text", "align": "left", "baseline": "top", "fontSize": 10.5, "lineHeight": 15, "lineBreak": "\n", "color": "#ff0000"},
 "encoding": {"x": {"datum": 1.37, "type": "quantitative"}, "y": {"datum": 74.1, "type": "quantitative"}, "text": {"value": "Vol, EXFM.KL, Trade Price\n15/5/2020, 70.433M"}}},
{"data": {"values": [{"k": 1}]}, "mark": {"type": "rect", "fill": "#f4f4f4", "stroke": "#555555", "strokeWidth": 1},
 "encoding": {"x": {"datum": 197.27, "type": "quantitative"}, "x2": {"datum": 200.75}, "y": {"datum": 0.45, "type": "quantitative"}, "y2": {"datum": -4.29}}},
{"data": {"values": [{"k": 1}]}, "mark": {"type": "text", "align": "center", "baseline": "middle", "fontSize": 10, "fontWeight": "bold", "color": "#444444"},
 "encoding": {"x": {"datum": 199.0, "type": "quantitative"}, "y": {"datum": -1.92, "type": "quantitative"}, "text": {"value": "Auto"}}}
]}
],
"resolve": {"scale": {"y": "independent"}}
}
